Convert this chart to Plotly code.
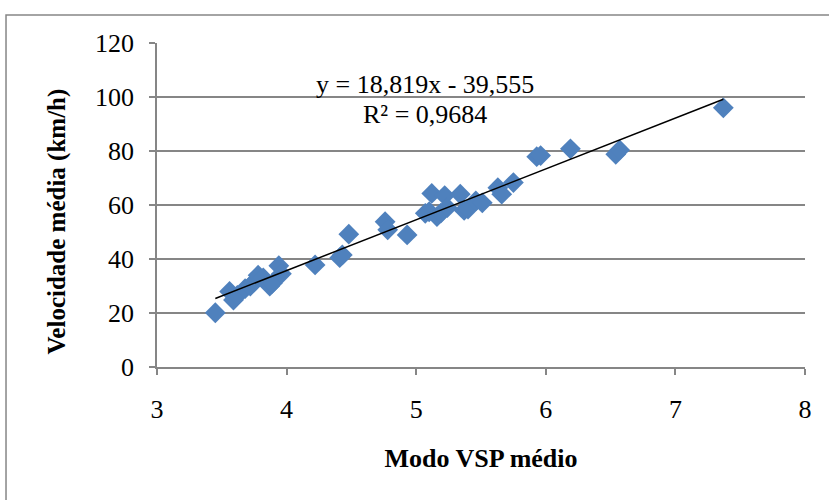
import plotly.graph_objects as go

# Modo VSP médio vs. velocidade média
vsp_mode = [3.45, 3.56, 3.59, 3.62, 3.68, 3.72, 3.75, 3.78, 3.82, 3.87, 3.89,
            3.94, 3.96, 4.22, 4.41, 4.43, 4.48, 4.76, 4.78, 4.93, 5.07, 5.10,
            5.12, 5.16, 5.19, 5.22, 5.24, 5.34, 5.37, 5.40, 5.46, 5.51, 5.63,
            5.66, 5.75, 5.93, 5.96, 6.19, 6.54, 6.57, 7.37]
avg_speed = [20.1, 28.0, 24.8, 26.5, 29.0, 30.0, 31.5, 34.0, 33.0, 30.0, 31.0,
             37.5, 34.5, 37.8, 40.5, 41.5, 49.2, 53.8, 50.8, 48.9, 56.9, 57.5,
             64.3, 55.7, 57.0, 63.5, 59.0, 64.0, 58.0, 58.5, 61.5, 60.8, 66.4,
             64.0, 68.3, 77.9, 78.3, 80.8, 78.8, 80.4, 96.0]

# Linear trendline coefficients
slope = 18.819
intercept = -39.555
r_squared = 0.9684

x_ticks = [3, 4, 5, 6, 7, 8]
y_ticks = [0, 20, 40, 60, 80, 100, 120]

trend_x = [min(vsp_mode), max(vsp_mode)]
trend_y = [slope * v + intercept for v in trend_x]

serif = "Liberation Serif, Times New Roman, serif"
grid = "#868686"

fig = go.Figure()
fig.add_trace(go.Scatter(
    x=vsp_mode, y=avg_speed, mode="markers",
    marker=dict(symbol="diamond", size=16, color="#4F81BD", line=dict(width=0)),
    showlegend=False, hoverinfo="x+y",
))
fig.add_trace(go.Scatter(
    x=trend_x, y=trend_y, mode="lines",
    line=dict(color="black", width=1.5),
    showlegend=False, hoverinfo="skip",
))

fig.add_annotation(
    x=5.07, y=104.5, xref="x", yref="y", showarrow=False,
    text="y = 18,819x - 39,555",
    font=dict(family=serif, size=26, color="black"),
)
fig.add_annotation(
    x=5.07, y=93.7, xref="x", yref="y", showarrow=False,
    text=f"R² = {str(r_squared).replace('.', ',')}",
    font=dict(family=serif, size=26, color="black"),
)

# Vertical axis title
fig.add_annotation(
    x=-0.154, y=0.45, xref="paper", yref="paper", showarrow=False,
    xanchor="center", yanchor="middle",
    text="<b>Velocidade média (km/h)</b>", textangle=-90,
    font=dict(family=serif, size=25, color="black"),
)

# Outer chart frame
fig.add_shape(type="rect", xref="paper", yref="paper",
              x0=-0.233, x1=1.2, y0=-0.6, y1=1.0864,
              line=dict(color="#868686", width=1.5), layer="below")

fig.update_layout(
    width=829, height=500,
    margin=dict(l=157, r=24, t=43, b=133),
    paper_bgcolor="white", plot_bgcolor="white",
    font=dict(family=serif, color="black"),
    xaxis=dict(
        range=[3, 8], tickvals=x_ticks, ticks="outside", ticklen=6,
        tickcolor=grid, tickwidth=1.5,
        showline=True, linecolor=grid, linewidth=1.5, showgrid=False,
        zeroline=False, tickfont=dict(size=26), ticklabelstandoff=12,
        title=dict(text="<b>Modo VSP médio</b>", font=dict(size=26), standoff=26),
    ),
    yaxis=dict(
        range=[0, 120], tickvals=y_ticks, ticks="outside", ticklen=6,
        tickcolor=grid, tickwidth=1.5,
        showline=True, linecolor=grid, linewidth=1.5,
        showgrid=True, gridcolor=grid, gridwidth=1.5,
        zeroline=False, tickfont=dict(size=26), ticklabelstandoff=10,
    ),
)

fig.write_html("out.html")
